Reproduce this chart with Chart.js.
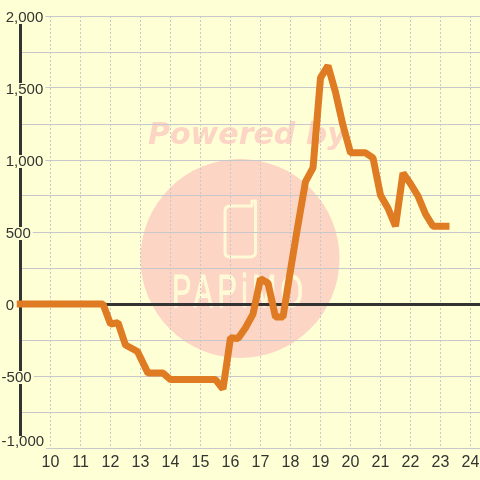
<!DOCTYPE html>
<html>
<head>
<meta charset="utf-8">
<style>
  html, body { margin: 0; padding: 0; background: #FFFFD5; }
  #wrap { width: 480px; height: 480px; }
</style>
<script src="https://cdn.jsdelivr.net/npm/chart.js@4"></script>
</head>
<body>
<div id="wrap"><canvas id="myChart" width="480" height="480"></canvas></div>
<script>
const hours = [
  8.875, 9, 9.25, 9.5, 9.75, 10, 10.25, 10.5, 10.75, 11, 11.25, 11.5, 11.75,
  12, 12.25, 12.5, 12.9, 13.25, 13.75, 14, 14.25, 14.5, 14.75, 15, 15.25, 15.5, 15.75,
  16, 16.25, 16.5, 16.75, 17, 17.25, 17.5, 17.75,
  18, 18.25, 18.5, 18.75, 19, 19.25, 19.5, 19.75,
  20, 20.25, 20.5, 20.75, 21, 21.25, 21.5, 21.75,
  22, 22.25, 22.5, 22.75, 23, 23.3
];
const values = [
  0, 0, 0, 0, 0, 0, 0, 0, 0, 0, 0, 0, 0,
  -139, -130, -285, -330, -480, -480, -525, -525, -525, -525, -525, -525, -525, -590,
  -235, -240, -165, -70, 175, 145, -90, -90,
  235, 550, 850, 945, 1570, 1655, 1470, 1240,
  1050, 1050, 1050, 1015, 755, 665, 540, 910,
  835, 750, 625, 540, 540, 540
];
const xTicks = [10, 11, 12, 13, 14, 15, 16, 17, 18, 19, 20, 21, 22, 23, 24];
const yTicks = [-1000, -750, -500, -250, 0, 250, 500, 750, 1000, 1250, 1500, 1750, 2000];
const yTickLabels = ['-1,000', '', '-500', '', '0', '', '500', '', '1,000', '', '1,500', '', '2,000'];

const bg = '#FFFFD5';
const dark = '#333333';
const gridColor = '#C8C8CC';
const pink = '#FDD5C5';
const pale = '#FFFAD6';

// watermark sits under the grid, so it goes in before the scales are drawn
const watermark = {
  id: 'watermark',
  beforeDraw(chart) {
    const ctx = chart.ctx;
    ctx.save();
    ctx.fillStyle = bg;
    ctx.fillRect(0, 0, chart.width, chart.height);

    ctx.fillStyle = pink;
    ctx.beginPath();
    ctx.arc(240, 258.5, 99.5, 0, Math.PI * 2);
    ctx.fill();

    ctx.font = 'italic bold 30px "DejaVu Sans"';
    ctx.textAlign = 'left';
    ctx.textBaseline = 'alphabetic';
    ctx.fillText('Powered by', 148, 144);

    // phone icon
    ctx.strokeStyle = pale;
    ctx.lineWidth = 3;
    ctx.lineJoin = 'round';
    ctx.lineCap = 'round';
    ctx.beginPath();
    ctx.moveTo(252, 206);
    ctx.lineTo(230, 206);
    ctx.quadraticCurveTo(225, 206, 225, 211);
    ctx.lineTo(225, 252);
    ctx.quadraticCurveTo(225, 257, 230, 257);
    ctx.lineTo(250, 257);
    ctx.quadraticCurveTo(255.5, 257, 255.5, 252);
    ctx.lineTo(255.5, 201);
    ctx.lineTo(252, 201);
    ctx.lineTo(252, 206);
    ctx.stroke();

    // logo word, tall and narrow
    ctx.fillStyle = pale;
    ctx.translate(172, 307);
    ctx.scale(0.62, 1);
    ctx.font = '47px "Liberation Sans"';
    ctx.letterSpacing = '7px';
    ctx.lineWidth = 1;
    ctx.fillText('PAPiMO', 0, 0);
    ctx.strokeText('PAPiMO', 0, 0);
    ctx.restore();
  },
  // the bottom label sits above its line, so its gap in the axis is cut here, labels come after
  beforeDatasetsDraw(chart) {
    chart.ctx.save();
    chart.ctx.fillStyle = bg;
    chart.ctx.fillRect(0, 436, 46, 13);
    chart.ctx.restore();
  }
};

const myChart = new Chart(document.getElementById('myChart'), {
  type: 'line',
  data: {
    datasets: [{
      data: hours.map((h, i) => ({ x: h, y: values[i] })),
      borderColor: '#DF7B22',
      borderWidth: 7,
      borderJoinStyle: 'bevel',
      pointRadius: 0,
      tension: 0,
      clip: false,
      xAxisID: 'x',
      yAxisID: 'y'
    }]
  },
  options: {
    responsive: false,
    animation: false,
    layout: { padding: { left: 20.5, top: 16, right: 0, bottom: 3 } },
    plugins: { legend: { display: false }, tooltip: { enabled: false } },
    scales: {
      x: {
        type: 'linear',
        position: 'bottom',
        min: 9,
        max: 24.3167,
        afterBuildTicks: (scale) => { scale.ticks = xTicks.map((v) => ({ value: v })); },
        grid: { color: gridColor, lineWidth: 1, drawTicks: false },
        border: { display: false, dash: [2, 2] },
        ticks: {
          color: dark,
          padding: 0,
          maxRotation: 0,
          autoSkip: false,
          font: { family: '"Liberation Sans"', size: 16, lineHeight: 1.8125 }
        }
      },
      xZero: {
        type: 'linear',
        axis: 'x',
        position: { y: 0 },
        min: 9,
        max: 24.3167,
        grid: { display: false, drawTicks: false },
        border: { display: true, color: dark, width: 3 },
        ticks: { display: false }
      },
      y: {
        type: 'linear',
        position: 'left',
        min: -1000,
        max: 2000,
        afterBuildTicks: (scale) => { scale.ticks = yTicks.map((v) => ({ value: v })); },
        afterFit: (scale) => { scale.width = 0; },   // labels overlap the plot, no room needed
        grid: { color: gridColor, lineWidth: 1, drawTicks: false },
        border: { display: true, color: dark, width: 3 },
        ticks: {
          z: 1,
          color: dark,
          mirror: true,
          padding: -18.9,
          labelOffset: 1.5,
          autoSkip: false,
          showLabelBackdrop: true,
          backdropColor: (ctx) => (ctx.tick && ctx.tick.value !== -1000 && yTickLabels[yTicks.indexOf(ctx.tick.value)] ? bg : 'rgba(0,0,0,0)'),
          backdropPadding: { top: -2.5, bottom: -2.5, left: 0, right: 2 },
          font: (ctx) => ({
            family: '"Liberation Sans"',
            size: 15,
            lineHeight: ctx.tick && ctx.tick.value === -1000 ? 16 / 15 : 1.2
          }),
          callback: (value) => {
            const label = yTickLabels[yTicks.indexOf(value)];
            if (value === -1000) return [label, ''];
            return value >= 0 && label ? '\u00a0' + label : label;
          }
        }
      }
    }
  },
  plugins: [watermark]
});
</script>
</body>
</html>
